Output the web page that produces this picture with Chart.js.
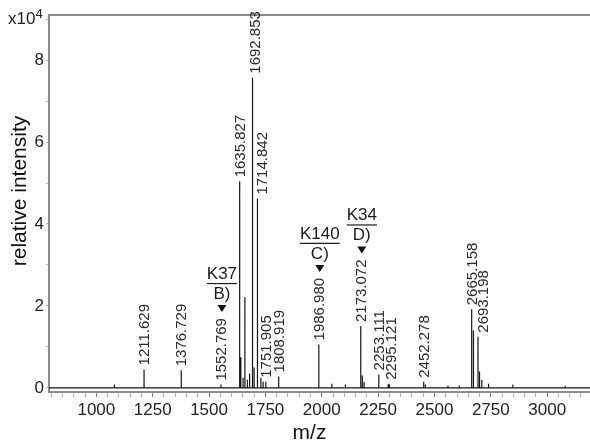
<!DOCTYPE html>
<html>
<head>
<meta charset="utf-8">
<script src="https://cdn.jsdelivr.net/npm/chart.js@4"></script>
<style>
  html, body { margin: 0; padding: 0; background: #fff; }
  #wrap { width: 590px; height: 447px; }
</style>
</head>
<body>
<div id="wrap"><canvas id="spectrum" width="590" height="447"></canvas></div>
<script>
// Picos etiquetados (m/z) y su intensidad (x10^4)
const labeledMz = [1211.629, 1376.729, 1552.769, 1635.827, 1692.853, 1714.842, 1751.905,
  1808.919, 1986.980, 2173.072, 2253.111, 2295.121, 2452.278, 2665.158, 2693.198];
const labeledInt = [0.45, 0.43, 0.08, 5.04, 7.57, 4.62, 0.15,
  0.28, 1.06, 1.51, 0.33, 0.10, 0.15, 1.92, 1.25];

// Picos chicos sin etiqueta
const minorMz = [1080, 1641, 1651, 1659, 1670, 1680, 1700, 1730, 1740, 2045, 2105, 2180,
  2188, 2300, 2460, 2560, 2610, 2673, 2700, 2710, 2740, 2848, 3080];
const minorInt = [0.08, 0.75, 0.25, 2.22, 0.2, 0.35, 0.5, 0.25, 0.15, 0.1, 0.08, 0.3,
  0.15, 0.08, 0.08, 0.06, 0.06, 1.4, 0.4, 0.2, 0.1, 0.08, 0.05];

// Sitios marcados con flecha
const sitePeaks = [1552.769, 1986.980, 2173.072];
const siteNames = ['K37', 'K140', 'K34'];
const siteLetters = ['B)', 'C)', 'D)'];

// Ejes
const xRange = [790, 3190];
const yRange = [-0.1, 9.1];
const xLabelTicks = [1000, 1250, 1500, 1750, 2000, 2250, 2500, 2750, 3000];
const yLabelTicks = [0, 2, 4, 6, 8];

const FONT = '"Liberation Sans", Arial, sans-serif';

// corrimiento horizontal de algunas etiquetas para que no se pisen
const labelNudge = {1692.853: 2, 1714.842: 4, 2295.121: 3, 2693.198: 5};

// armar el espectro como palitos
const peaks = labeledMz.map((m, i) => [m, labeledInt[i]])
  .concat(minorMz.map((m, i) => [m, minorInt[i]]))
  .sort((a, b) => a[0] - b[0]);
const stickData = [{x: xRange[0], y: 0}];
peaks.forEach(p => {
  stickData.push({x: p[0], y: 0}, {x: p[0], y: p[1]}, {x: p[0], y: 0});
});
stickData.push({x: xRange[1], y: 0});

const decorPlugin = {
  id: 'decor',
  afterDraw(chart) {
    const ctx = chart.ctx;
    const area = chart.chartArea;
    const xs = chart.scales.x;
    const ys = chart.scales.y;
    ctx.save();
    // marco superior
    ctx.strokeStyle = '#8c8c8c';
    ctx.lineWidth = 2;
    ctx.beginPath();
    ctx.moveTo(area.left - 1, area.top);
    ctx.lineTo(area.right, area.top);
    ctx.stroke();

    // etiquetas de los picos
    ctx.fillStyle = '#2a2a2a';
    ctx.font = '15px ' + FONT;
    const tops = {};
    labeledMz.forEach((m, i) => {
      const px = xs.getPixelForValue(m) + 1 + (labelNudge[m] || 0);
      const py = ys.getPixelForValue(labeledInt[i]) - 4;
      const txt = m.toFixed(3);
      const w = ctx.measureText(txt).width;
      ctx.save();
      ctx.translate(px, py);
      ctx.rotate(-Math.PI / 2);
      ctx.textAlign = 'left';
      ctx.textBaseline = 'middle';
      ctx.fillText(txt, 0, 0);
      ctx.restore();
      tops[m] = py - w;
    });

    // flechas de los sitios
    sitePeaks.forEach((m, i) => {
      const px = xs.getPixelForValue(m) + 1;
      const top = tops[m];
      ctx.fillStyle = '#111';
      ctx.beginPath();
      ctx.moveTo(px - 4.5, top - 13);
      ctx.lineTo(px + 4.5, top - 13);
      ctx.lineTo(px, top - 6);
      ctx.closePath();
      ctx.fill();
      ctx.font = '17px ' + FONT;
      ctx.textAlign = 'center';
      ctx.textBaseline = 'middle';
      ctx.fillStyle = '#1a1a1a';
      ctx.fillText(siteLetters[i], px, top - 24);
      ctx.fillText(siteNames[i], px, top - 44);
      const w = ctx.measureText(siteNames[i]).width;
      ctx.strokeStyle = '#1a1a1a';
      ctx.lineWidth = 1.2;
      ctx.beginPath();
      ctx.moveTo(px - w / 2, top - 34.5);
      ctx.lineTo(px + w / 2, top - 34.5);
      ctx.stroke();
    });

    // titulos de ejes
    ctx.fillStyle = '#111';
    ctx.font = '21px ' + FONT;
    ctx.save();
    ctx.translate(20, 191);
    ctx.rotate(-Math.PI / 2);
    ctx.textAlign = 'center';
    ctx.textBaseline = 'middle';
    ctx.fillText('relative intensity', 0, 0);
    ctx.restore();
    ctx.textAlign = 'center';
    ctx.textBaseline = 'middle';
    ctx.fillText('m/z', (area.left + area.right) / 2 - 10, 433);

    // factor x10^4
    ctx.textAlign = 'left';
    ctx.textBaseline = 'alphabetic';
    ctx.font = '17px ' + FONT;
    ctx.fillStyle = '#222';
    ctx.fillText('x10', 8, 24);
    const w10 = ctx.measureText('x10').width;
    ctx.font = '13px ' + FONT;
    ctx.fillText('4', 8 + w10, 18);
    ctx.restore();
  }
};

new Chart(document.getElementById('spectrum'), {
  type: 'line',
  data: {
    datasets: [{
      data: stickData,
      borderColor: '#151515',
      borderWidth: 1.2,
      pointRadius: 0,
      tension: 0,
      fill: false,
    }],
  },
  options: {
    responsive: false,
    animation: false,
    devicePixelRatio: 1,
    layout: {padding: {top: 15, right: 0, left: 0, bottom: 0}},
    plugins: {legend: {display: false}, tooltip: {enabled: false}},
    scales: {
      x: {
        type: 'linear',
        min: xRange[0],
        max: xRange[1],
        afterFit: (scale) => { scale.height = 55; },
        afterBuildTicks: (scale) => {
          const t = [];
          for (let v = 800; v <= 3150; v += 50) t.push({value: v});
          scale.ticks = t;
        },
        ticks: {
          autoSkip: false,
          maxRotation: 0,
          padding: 3,
          color: '#222',
          font: {family: FONT, size: 17},
          callback: (v) => xLabelTicks.includes(v) ? String(v) : '',
        },
        grid: {
          drawOnChartArea: false,
          drawTicks: true,
          tickLength: 5,
          tickColor: (c) => xLabelTicks.includes(c.tick && c.tick.value) ? '#777' : '#b5b5b5',
        },
        border: {color: '#8c8c8c', width: 2},
      },
      y: {
        type: 'linear',
        min: yRange[0],
        max: yRange[1],
        afterFit: (scale) => { scale.width = 49; },
        afterBuildTicks: (scale) => {
          const t = [];
          for (let v = 0; v <= 9; v++) t.push({value: v});
          scale.ticks = t;
        },
        ticks: {
          padding: 2,
          color: '#222',
          font: {family: FONT, size: 17},
          callback: (v) => yLabelTicks.includes(v) ? String(v) : '',
        },
        grid: {
          drawOnChartArea: false,
          drawTicks: true,
          tickLength: 3,
          tickColor: '#b5b5b5',
        },
        border: {color: '#8c8c8c', width: 2},
      },
    },
  },
  plugins: [decorPlugin],
});
</script>
</body>
</html>
